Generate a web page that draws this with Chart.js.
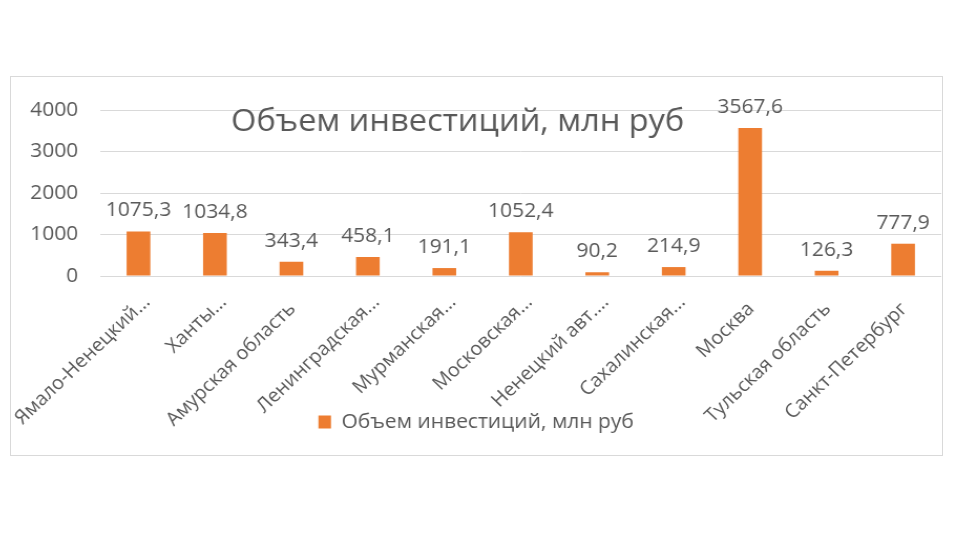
<!DOCTYPE html>
<html>
<head>
<meta charset="utf-8">
<script src="https://cdn.jsdelivr.net/npm/chart.js@4"></script>
<style>
  html, body { margin: 0; padding: 0; background: #ffffff; width: 958px; height: 539px; overflow: hidden; }
  #box { position: absolute; left: 10px; top: 76px; width: 931px; height: 378px; border: 1px solid #d9d9d9; background: #fff; overflow: hidden; }
  #c { display: block; transform: scaleX(1.05); transform-origin: 0 0; }
</style>
</head>
<body>
<div id="box"><canvas id="c" width="887" height="378"></canvas></div>
<script>
const categories = ["Ямало-Ненецкий...", "Ханты...", "Амурская область", "Ленинградская...", "Мурманская...", "Московская...", "Ненецкий авт....", "Сахалинская...", "Москва", "Тульская область", "Санкт-Петербург"];
const values = [1075.3, 1034.8, 343.4, 458.1, 191.1, 1052.4, 90.2, 214.9, 3567.6, 126.3, 777.9];
const yTicks = [0, 1000, 2000, 3000, 4000];
const seriesName = "Объем инвестиций, млн руб";
const chartTitle = "Объем инвестиций, млн руб";

const FONT = "'Open Sans', sans-serif";
const GRAY = "#595959";

const overlay = {
  id: 'overlay',
  afterLayout(chart) {
    // let the rotated category labels run down into the legend band, as in the original
    chart.scales.x.bottom = chart.height;
  },
  afterDatasetsDraw(chart) {
    const ctx = chart.ctx;
    const meta = chart.getDatasetMeta(0);
    ctx.save();
    ctx.fillStyle = GRAY;
    ctx.font = "20px " + FONT;
    ctx.textAlign = 'center';
    ctx.textBaseline = 'alphabetic';
    meta.data.forEach((bar, i) => {
      const txt = values[i].toFixed(1).replace('.', ',');
      ctx.fillText(txt, bar.x, bar.y - 15);
    });
    const ca = chart.chartArea;
    ctx.font = "31px " + FONT;
    ctx.fillText(chartTitle, ca.left + (ca.right - ca.left) * 0.425, ca.top + 21);
    ctx.restore();
  }
};

new Chart(document.getElementById('c'), {
  type: 'bar',
  data: {
    labels: categories,
    datasets: [{
      label: seriesName,
      data: values,
      backgroundColor: '#ED7D31',
      borderWidth: 0,
      categoryPercentage: 1.0,
      barPercentage: 0.31
    }]
  },
  options: {
    responsive: false,
    animation: false,
    layout: { padding: { top: 33, right: 1, bottom: 13, left: 0 } },
    plugins: {
      legend: {
        position: 'bottom',
        labels: {
          color: GRAY,
          font: { family: FONT, size: 20 },
          boxWidth: 12, boxHeight: 13,
          padding: 10
        }
      },
      title: { display: false },
      tooltip: { enabled: false }
    },
    scales: {
      x: {
        grid: { display: false, drawTicks: false },
        border: { display: false },
        ticks: {
          color: GRAY,
          font: { family: FONT, size: 19 },
          minRotation: 45, maxRotation: 45,
          autoSkip: false,
          padding: 15,
          labelOffset: 8,
          // untruncated names sit a little lower along their slant than the "..." ones
          callback: (v, i) => categories[i].endsWith('...') ? categories[i] : categories[i] + '  '
        },
        afterFit(scale) {
          scale.height = 126;
          scale.paddingLeft = 0;
          scale.paddingRight = 0;
        }
      },
      y: {
        min: 0, max: 4000,
        afterBuildTicks(scale) { scale.ticks = yTicks.map(v => ({ value: v })); },
        grid: { color: '#d9d9d9', lineWidth: 1, drawTicks: false },
        border: { display: false },
        ticks: {
          color: GRAY,
          font: { family: FONT, size: 20 },
          padding: 21,
          callback: (v) => String(v)
        },
        afterFit(scale) { scale.width = 85; }
      }
    }
  },
  plugins: [overlay]
});
</script>
</body>
</html>
